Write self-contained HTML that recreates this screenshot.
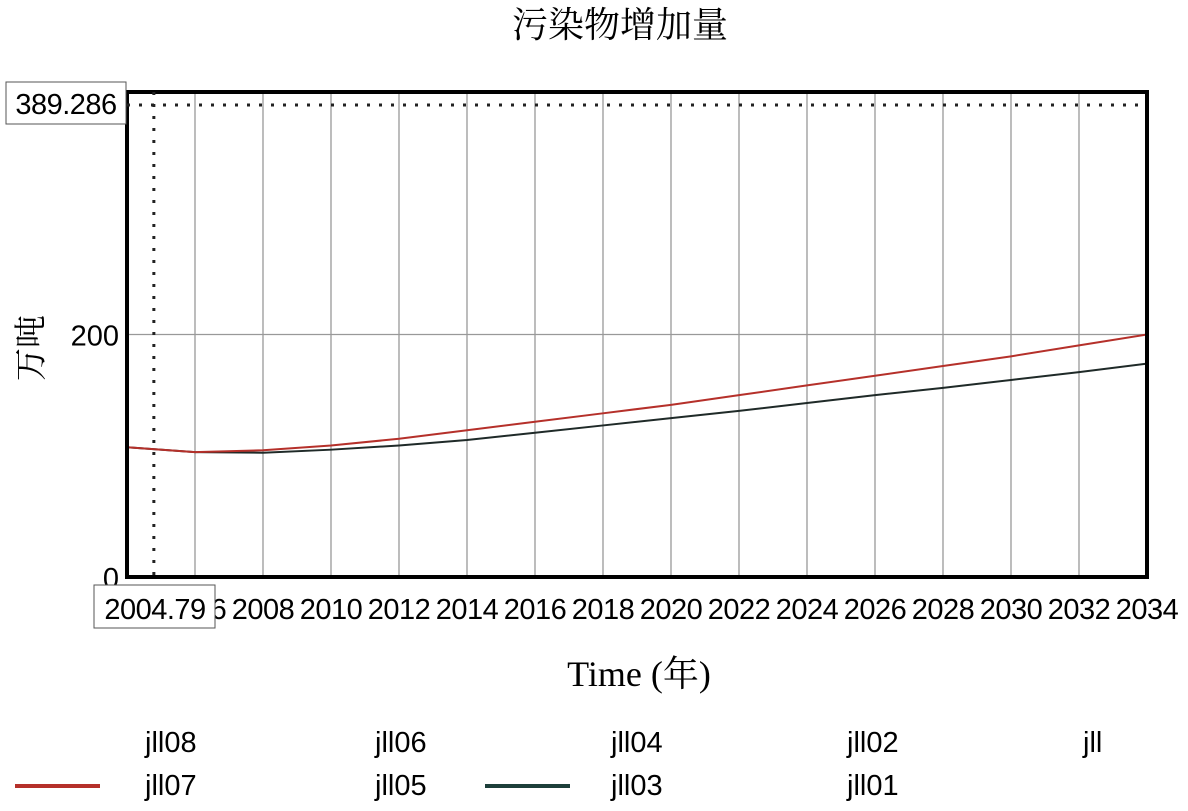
<!DOCTYPE html>
<html><head><meta charset="utf-8"><style>
body{margin:0;background:#fff;}
svg{display:block;}
.t{font-family:"Liberation Sans","Noto Sans CJK SC",sans-serif;font-size:29px;fill:#000;}
.s{font-family:"Liberation Serif","Noto Serif CJK SC",serif;fill:#000;}
</style></head><body>
<svg id="chart" width="1188" height="811">
<text class="s" x="620" y="37" font-size="36" text-anchor="middle">污染物增加量</text>
<text class="s" transform="translate(42,348) rotate(-90)" font-size="33" text-anchor="middle">万吨</text>
<text class="s" x="639" y="686" font-size="36" text-anchor="middle">Time (年)</text>
<g id="grid"></g><g id="series"></g><g id="axes"></g>
<g>
<text class="t" x="145" y="752">jll08</text>
<text class="t" x="375" y="752">jll06</text>
<text class="t" x="611" y="752">jll04</text>
<text class="t" x="847" y="752">jll02</text>
<text class="t" x="1083" y="752">jll</text>
<line x1="15" y1="786" x2="100" y2="786" stroke="#b5302a" stroke-width="4"/>
<text class="t" x="145" y="795">jll07</text>
<text class="t" x="375" y="795">jll05</text>
<line x1="485" y1="786" x2="570" y2="786" stroke="#1d3f3a" stroke-width="4"/>
<text class="t" x="611" y="795">jll03</text>
<text class="t" x="847" y="795">jll01</text>
</g>
</svg>
<script>
const years=[2004,2006,2008,2010,2012,2014,2016,2018,2020,2022,2024,2026,2028,2030,2032,2034];
const jll07=[107,103,104.5,108.5,114,121,128,135,142,150,158,166,174,182,191,200];
const jll03=[107,103,102.5,105,108.5,113,119,125,131,137,143.5,150,156,162.5,169,176];
const xTicks=["2006","2008","2010","2012","2014","2016","2018","2020","2022","2024","2026","2028","2030","2032","2034"];
const yTicks=[0,200];
const cursorX=2004.79, cursorY=389.286;
const X0=127,X1=1147,Y0=577,Y1=92;
const x=v=>X0+(v-2004)/30*(X1-X0);
const y=v=>Y0-v/400*(Y0-Y1);
const NS="http://www.w3.org/2000/svg";
function mk(p,tag,a){const e=document.createElementNS(NS,tag);for(const k in a)e.setAttribute(k,a[k]);p.appendChild(e);return e;}
const g=document.getElementById('grid'),s=document.getElementById('series'),ax=document.getElementById('axes');
xTicks.forEach(t=>{const e=mk(g,'line',{x1:x(+t),x2:x(+t),y1:Y1,y2:Y0,stroke:'#999','stroke-width':1.3});


const l=mk(ax,'text',{x:x(+t),y:619,'text-anchor':'middle',class:'t','font-size':29,'letter-spacing':'-0.5'});l.textContent=t;

});
yTicks.forEach(t=>{if(t>0){const e=mk(g,'line',{x1:X0,x2:X1,y1:y(t),y2:y(t),stroke:'#999','stroke-width':1.3});

}
const l=mk(ax,'text',{x:119,y:y(t)+11,'text-anchor':'end',class:'t','font-size':29});l.textContent=t;

});
function line(d,c,n){const e=mk(s,'polyline',{points:years.map((yr,i)=>x(yr)+','+y(d[i])).join(' '),fill:'none',stroke:c,'stroke-width':2});

}
line(jll03,'#1f2a28','line-jll03');
line(jll07,'#b5302a','line-jll07');
const f=mk(ax,'rect',{x:X0,y:Y1,width:X1-X0,height:Y0-Y1,fill:'none',stroke:'#000','stroke-width':4});


const ch=mk(ax,'line',{x1:X0,x2:X1,y1:y(cursorY),y2:y(cursorY),stroke:'#222','stroke-width':3,'stroke-dasharray':'3 9'});


const cv=mk(ax,'line',{x1:x(cursorX),x2:x(cursorX),y1:Y1,y2:Y0,stroke:'#222','stroke-width':3,'stroke-dasharray':'3 9'});


const b1=mk(ax,'rect',{x:6,y:82,width:120,height:42,fill:'#fff',stroke:'#555','stroke-width':1});


const t1=mk(ax,'text',{x:66,y:114,'text-anchor':'middle',class:'t','font-size':29,'letter-spacing':'-0.5'});t1.textContent=cursorY;


const b2=mk(ax,'rect',{x:94,y:585,width:121,height:43,fill:'#fff',stroke:'#555','stroke-width':1});


const t2=mk(ax,'text',{x:155,y:619,'text-anchor':'middle',class:'t','font-size':29,'letter-spacing':'-0.5'});t2.textContent=cursorX;


</script>
</body></html>
